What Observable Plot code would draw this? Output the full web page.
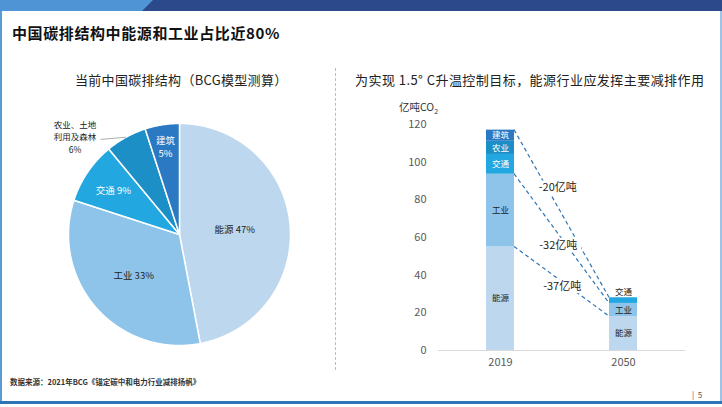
<!DOCTYPE html>
<html><head><meta charset="utf-8">
<script src="https://cdn.jsdelivr.net/npm/d3@7"></script>
<script src="https://cdn.jsdelivr.net/npm/@observablehq/plot@0.6"></script>
<style>
body{margin:0;background:#fff;font-family:"Noto Sans CJK SC","Noto Sans",sans-serif;}
#page{position:relative;width:722px;height:407px;overflow:hidden;background:#fff;}
.abs{position:absolute;white-space:nowrap;}
</style></head><body><div id="page">
<div class="abs" style="left:0;top:0;width:722px;height:11px;background:#2c4a8b"></div>
<div class="abs" style="left:0;top:0;width:153px;height:11px;background:#4f94d4;clip-path:polygon(0 0,153px 0,142px 11px,0 11px)"></div>
<div class="abs" style="left:0;top:11px;width:2px;height:392px;background:#5b9bd5"></div>
<div class="abs" style="left:720px;top:11px;width:2px;height:392px;background:#9dc3e6"></div>
<div class="abs" style="left:0;top:401px;width:722px;height:3px;background:#2e75b6"></div>
<div class="abs" style="left:12px;top:22px;font-size:15px;font-weight:bold;color:#111;letter-spacing:0.6px">中国碳排结构中能源和工业占比近80%</div>
<div class="abs" style="left:75px;top:70px;font-size:13px;color:#222;letter-spacing:0.3px">当前中国碳排结构（BCG模型测算）</div>
<div class="abs" style="left:355px;top:70px;font-size:13px;color:#222;letter-spacing:0.45px">为实现 1.5° C升温控制目标，能源行业应发挥主要减排作用</div>
<div class="abs" style="left:335px;top:68px;height:302px;border-left:1px dashed #9dc3e6"></div>
<div class="abs" style="left:399px;top:99px;font-size:10.5px;color:#333">亿吨CO<sub style="font-size:7px">2</sub></div>
<div class="abs" style="left:10px;top:376px;font-size:7.5px;color:#333;font-weight:bold">数据来源：2021年BCG《锚定碳中和电力行业减排扬帆》</div>
<div class="abs" style="left:692px;top:389px;font-size:8px;color:#555">|&nbsp;&nbsp;5</div>
<div id="pie" class="abs" style="left:0;top:100px"></div>
<div id="bars" class="abs" style="left:380px;top:110px"></div>
</div>
<script>
// ---- data ----
const sectors = ["能源", "工业", "交通", "农业", "建筑"];
const pieShares = [47, 33, 9, 6, 5];
const pieLabels = ["能源 47%", "工业 33%", "交通 9%", "农业、土地\n利用及森林\n6%", "建筑\n5%"];
const years = ["2019", "2050"];
const emissions2019 = [55, 38.6, 10.5, 7, 5.9];
const emissions2050 = [18, 7, 3, 0, 0];
const reductionLabels = ["-37亿吨", "-32亿吨", "-20亿吨"];
const reductionLevels = [0, 1, 4]; // cumulative sector index joined by each dashed line
const yTicks = [0, 20, 40, 60, 80, 100, 120];
const colors = ["#bdd7ee", "#8ec4ea", "#22a7e0", "#1b8fc6", "#2a79c2"];

const FONT = '"Noto Sans CJK SC","Noto Sans",sans-serif';

// ---- pie ----
const total = d3.sum(pieShares);
let acc = 0;
const slices = sectors.map((s, i) => {
  const a0 = acc / total * 2 * Math.PI; acc += pieShares[i];
  const a1 = acc / total * 2 * Math.PI;
  return {sector: s, i, a0, a1, mid: (a0 + a1) / 2};
});
const slicePts = slices.map(sl => {
  const pts = [{x: 0, y: 0}];
  const n = Math.max(2, Math.ceil((sl.a1 - sl.a0) / (Math.PI / 360)));
  for (let k = 0; k <= n; k++) {
    const a = sl.a0 + (sl.a1 - sl.a0) * k / n;
    pts.push({x: Math.sin(a), y: Math.cos(a)});
  }
  pts.push({x: 0, y: 0});
  return pts;
});
const labelRadius = [0.5, 0.55, 0.72, 1.0, 0.8];
const pieText = slices.map(sl => ({
  x: labelRadius[sl.i] * Math.sin(sl.mid),
  y: labelRadius[sl.i] * Math.cos(sl.mid),
  text: pieLabels[sl.i],
  inside: sl.i !== 3,
  fill: sl.i >= 2 ? "#fff" : "#222"
}));
const outside = pieText.filter(d => !d.inside);

const pie = Plot.plot({
  width: 340, height: 270,
  marginLeft: 68, marginRight: 50, marginTop: 23, marginBottom: 25,
  x: {domain: [-1, 1], axis: null},
  y: {domain: [-1, 1], axis: null},
  style: {fontFamily: FONT, background: "transparent"},
  marks: [
    ...slicePts.map((pts, i) => Plot.line(pts, {x: "x", y: "y", fill: colors[i], stroke: "#fff", strokeWidth: 1.5, strokeLinejoin: "round"})),
    Plot.text(pieText.filter(d => d.inside), {x: "x", y: "y", text: "text", fill: "fill", fontSize: 9.5, lineHeight: 1.37, letterSpacing: "0.5px"}),
    Plot.link(outside, {x1: "x", y1: "y", x2: d => d.x - 0.23, y2: d => d.y - 0.02, stroke: "#999", strokeWidth: 0.8}),
    Plot.text(outside, {x: "x", y: "y", text: "text", fill: "#222", fontSize: 8.5, lineHeight: 1.47, dx: -51, dy: -1})
  ]
});
document.getElementById("pie").appendChild(pie);

// ---- stacked bars ----
const rows = [];
years.forEach((yr, j) => {
  const vals = j === 0 ? emissions2019 : emissions2050;
  sectors.forEach((s, i) => rows.push({year: yr, sector: s, i, value: vals[i]}));
});
const cum = [emissions2019, emissions2050].map(v => d3.cumsum(v));
const links = reductionLevels.map((lv, k) => ({from: cum[0][lv], to: cum[1][lv], label: reductionLabels[k]}));
const labelAt = [{t: 0.57, dx: -6}, {t: 0.55, dx: -8}, {t: 0.345, dx: 11}];

function reductionMark(index, scales) {
  const {x, y} = scales;
  const bw = typeof x.bandwidth === "function" ? x.bandwidth() : x.bandwidth;
  const g = d3.create("svg:g");
  links.forEach((L, k) => {
    const x1 = x(years[0]) + bw, x2 = x(years[1]);
    const y1 = y(L.from), y2 = y(L.to);
    g.append("line").attr("x1", x1).attr("y1", y1).attr("x2", x2).attr("y2", y2)
      .attr("stroke", "#2e75b6").attr("stroke-width", 1.2).attr("stroke-dasharray", "4,3");
  });
  links.forEach((L, k) => {
    const x1 = x(years[0]) + bw, x2 = x(years[1]);
    const y1 = y(L.from), y2 = y(L.to);
    const {t, dx} = labelAt[k];
    const cx = x1 + (x2 - x1) * t + dx, cy = y1 + (y2 - y1) * t;
    g.append("rect").attr("x", cx - 23).attr("y", cy - 7).attr("width", 46).attr("height", 14).attr("fill", "#fff");
    g.append("text").attr("x", cx).attr("y", cy).attr("dy", "0.35em").attr("text-anchor", "middle")
      .attr("font-size", 11).attr("fill", "#222").text(L.label);
  });
  return g.node();
}

const bars = Plot.plot({
  width: 320, height: 270,
  marginLeft: 58, marginRight: 15, marginTop: 14, marginBottom: 30,
  x: {domain: years, paddingInner: 0.772, paddingOuter: 0.39, tickSize: 0, tickPadding: 8, label: null},
  y: {domain: [0, 120], ticks: yTicks, tickSize: 0, tickPadding: 12, label: null},
  color: {domain: sectors, range: colors},
  style: {fontFamily: FONT, fontSize: "11px", color: "#595959", background: "transparent"},
  marks: [
    Plot.ruleY([0], {stroke: "#d9d9d9"}),
    reductionMark,
    Plot.barY(rows, {x: "year", y: "value", fill: "sector", z: "sector"}),
    Plot.text(rows, Plot.stackY({x: "year", y: "value", z: "sector",
      text: d => d.value >= 5 ? d.sector : null,
      fill: d => (d.value >= 5 && d.i >= 2) ? "#fff" : "#222",
      fontSize: 8.5, lineHeight: 1, letterSpacing: "0.8px"})),
    Plot.text(rows, Plot.stackY2({x: "year", y: "value", z: "sector",
      text: d => (d.value > 0 && d.value < 5) ? d.sector : null,
      fill: "#222", fontSize: 8.5, letterSpacing: "0.8px", dy: -6}))
  ]
});
document.getElementById("bars").appendChild(bars);
</script>
</body></html>
